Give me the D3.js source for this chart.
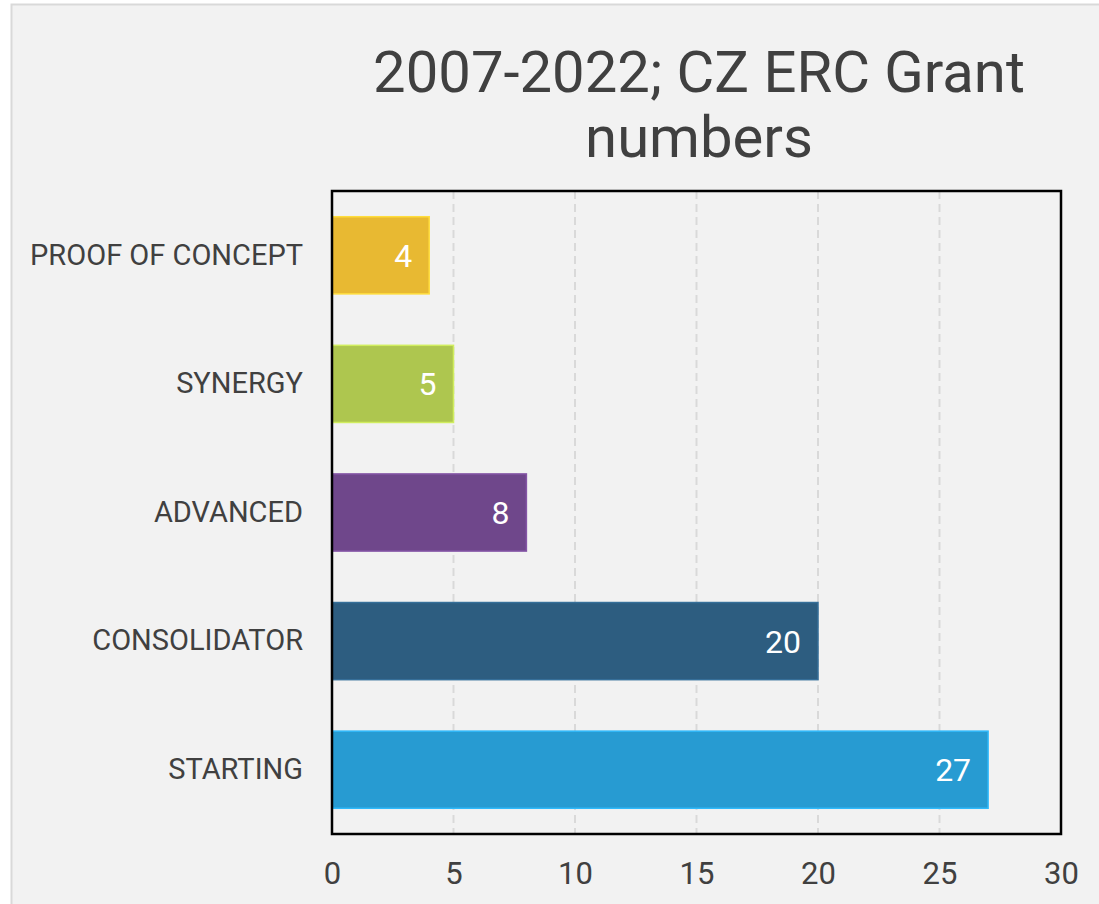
<!DOCTYPE html>
<meta charset="utf-8">
<html>
<head>
<script src="https://d3js.org/d3.v7.min.js"></script>
<style>
  body { margin: 0; background: #fff; }
  text { font-family: Roboto, "Open Sans", sans-serif; }
</style>
</head>
<body>
<div id="my_dataviz"></div>
<script>

// categories, top to bottom
var categories = ["PROOF OF CONCEPT", "SYNERGY", "ADVANCED", "CONSOLIDATOR", "STARTING"];
var values = [4, 5, 8, 20, 27];
var colors = ["#e8b932", "#aec64f", "#6f478b", "#2d5d80", "#279bd2"];
var xTicks = [0, 5, 10, 15, 20, 25, 30];

var W = 1099, H = 904;
var margin = {top: 191, right: 38, bottom: 70, left: 332},
    width = W - margin.left - margin.right,
    height = H - margin.top - margin.bottom;

var root = d3.select("#my_dataviz")
  .append("svg")
    .attr("width", W)
    .attr("height", H);

// chart background and outer border
root.append("rect")
  .attr("x", 11.5).attr("y", 4.5)
  .attr("width", W).attr("height", H)
  .attr("fill", "#f2f2f2")
  .attr("stroke", "#d9d9d9")
  .attr("stroke-width", 2);

// title
root.append("text")
  .attr("x", 699).attr("y", 92)
  .attr("text-anchor", "middle")
  .attr("fill", "#404040")
  .style("font-size", "58px")
  .text("2007-2022; CZ ERC Grant");
root.append("text")
  .attr("x", 699).attr("y", 157)
  .attr("text-anchor", "middle")
  .attr("fill", "#404040")
  .style("font-size", "58px")
  .text("numbers");

var svg = root.append("g")
  .attr("transform", "translate(" + margin.left + "," + margin.top + ")");

var x = d3.scaleLinear()
  .domain([0, 30])
  .range([0, width]);

var y = d3.scaleBand()
  .domain(categories)
  .range([0, height])
  .paddingInner(0.4)
  .paddingOuter(0.2);

// dashed vertical gridlines
svg.selectAll(".grid")
  .data(xTicks.filter(function(d) { return d > 0 && d < 30; }))
  .enter().append("line")
    .attr("x1", function(d) { return x(d); })
    .attr("x2", function(d) { return x(d); })
    .attr("y1", 0).attr("y2", height)
    .attr("stroke", "#d9d9d9")
    .attr("stroke-width", 2)
    .attr("stroke-dasharray", "8,5");

// bars
svg.selectAll(".bar")
  .data(values)
  .enter().append("rect")
    .attr("x", x(0))
    .attr("y", function(d, i) { return y(categories[i]); })
    .attr("width", function(d) { return x(d) - x(0); })
    .attr("height", y.bandwidth())
    .attr("fill", function(d, i) { return colors[i]; })
    .attr("stroke", function(d, i) { return d3.color(colors[i]).brighter(0.5); })
    .attr("stroke-width", 1.5);

// value labels
svg.selectAll(".val")
  .data(values)
  .enter().append("text")
    .attr("x", function(d) { return x(d) - 17; })
    .attr("y", function(d, i) { return y(categories[i]) + y.bandwidth() / 2; })
    .attr("dy", "0.36em")
    .attr("text-anchor", "end")
    .attr("fill", "#fff")
    .style("font-size", "32px")
    .text(function(d) { return d; });

// plot frame
svg.append("rect")
  .attr("width", width).attr("height", height)
  .attr("fill", "none")
  .attr("stroke", "#000")
  .attr("stroke-width", 2.5);

// X axis
var xAxis = svg.append("g")
  .attr("transform", "translate(0," + height + ")")
  .call(d3.axisBottom(x).tickValues(xTicks).tickSize(0).tickPadding(28));
xAxis.select(".domain").remove();
xAxis.selectAll("text")
  .attr("fill", "#404040")
  .style("font-size", "31px");

// Y axis
var yAxis = svg.append("g")
  .call(d3.axisLeft(y).tickSize(0).tickPadding(29));
yAxis.select(".domain").remove();
yAxis.selectAll("text")
  .attr("fill", "#404040")
  .style("font-size", "29px");

</script>
</body>
</html>
